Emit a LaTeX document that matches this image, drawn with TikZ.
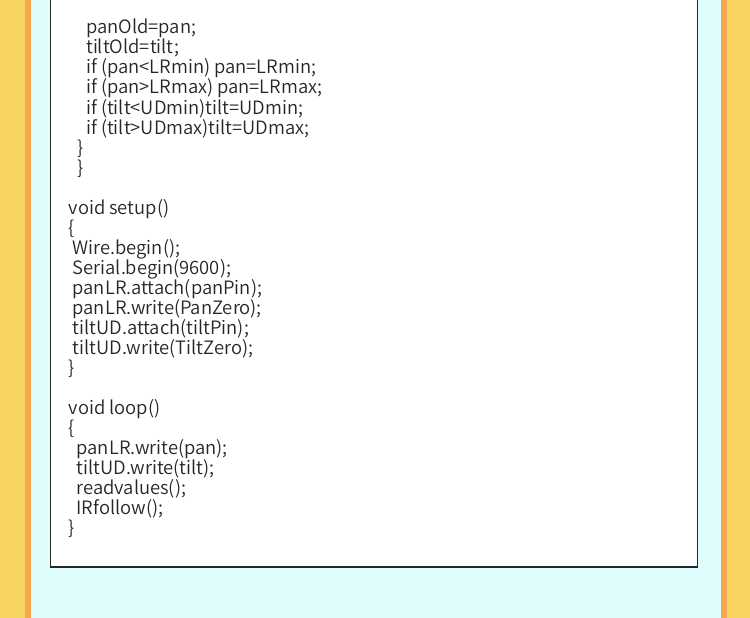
\documentclass[tikz,border=0pt]{standalone}
\usepackage{fontspec}
\setmainfont{Noto Sans CJK SC DemiLight}
\definecolor{sideyellow}{RGB}{247,212,95}
\definecolor{sideorange}{RGB}{245,166,80}
\definecolor{paperblue}{RGB}{224,253,253}
\tikzset{
  code/.style={anchor=base west,inner sep=0pt,font=\fontsize{18.4}{20}\selectfont,text=black!85}
}
\begin{document}
\begin{tikzpicture}[x=1pt,y=-1pt]
  \useasboundingbox (0,0) rectangle (750,618);
  % Background and side stripes
  \fill[paperblue] (0,0) rectangle (750,618);
  \fill[sideyellow] (0,0) rectangle (25,618);
  \fill[sideorange] (25,0) rectangle (31,618);
  \fill[sideorange] (721,0) rectangle (727,618);
  \fill[sideyellow] (727,0) rectangle (750,618);
  % Code sheet
  \draw[fill=white,draw=black!85,line width=1.2pt] (50.5,-5) rectangle (697.5,567) coordinate (sheet);
  % Tail of readvalues()
  \node[code] (l0) at (86,34) {panOld=pan;};
  \node[code] (l1) at (86,54) {tiltOld=tilt;};
  \node[code] (l2) at (86,74) {if (pan<LRmin) pan=LRmin;};
  \node[code] (l3) at (86,94) {if (pan>LRmax) pan=LRmax;};
  \node[code] (l4) at (86,114) {if (tilt<UDmin)tilt=UDmin;};
  \node[code] (l5) at (86,134) {if (tilt>UDmax)tilt=UDmax;};
  \node[code] (l6) at (77,154) {\}};
  \node[code] (l7) at (77,174) {\}};
  % setup()
  \node[code] (s0) at (68.5,214) {void setup()};
  \node[code] (s1) at (68.5,234) {\{};
  \node[code] (s2) at (72.5,254) {Wire.begin();};
  \node[code] (s3) at (72.5,274) {Serial.begin(9600);};
  \node[code] (s4) at (72.5,294) {panLR.attach(panPin);};
  \node[code] (s5) at (72.5,314) {panLR.write(PanZero);};
  \node[code] (s6) at (72.5,334) {tiltUD.attach(tiltPin);};
  \node[code] (s7) at (72.5,354) {tiltUD.write(TiltZero);};
  \node[code] (s8) at (68.5,374) {\}};
  % loop()
  \node[code] (p0) at (68.5,414) {void loop()};
  \node[code] (p1) at (68.5,434) {\{};
  \node[code] (p2) at (76.5,454) {panLR.write(pan);};
  \node[code] (p3) at (76.5,474) {tiltUD.write(tilt);};
  \node[code] (p4) at (76.5,494) {readvalues();};
  \node[code] (p5) at (76.5,514) {IRfollow();};
  \node[code] (p6) at (68.5,534) {\}};
\end{tikzpicture}
\end{document}
